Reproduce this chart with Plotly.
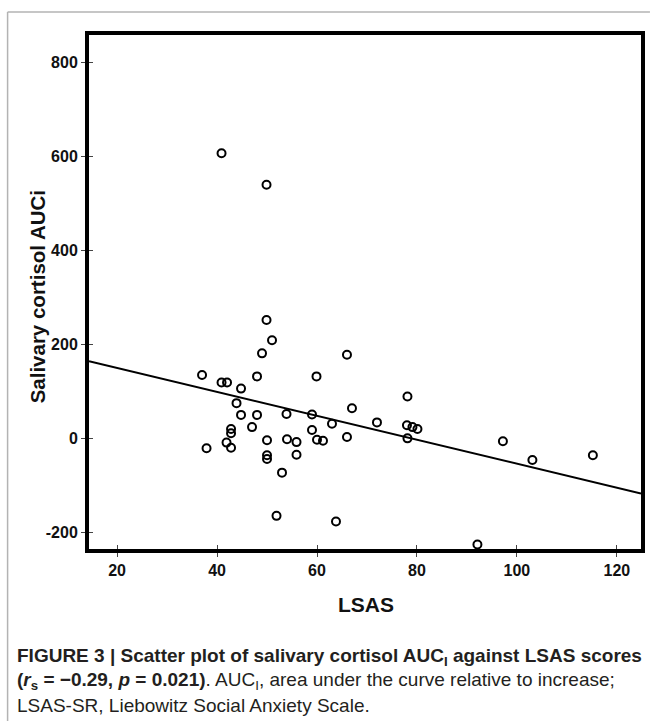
import plotly.graph_objects as go

# ---- data ----
lsas = [37.0, 40.9, 42.0, 44.8, 43.9, 44.8, 48.0, 48.0, 49.0, 51.0,
        47.0, 42.8, 42.8, 41.9, 42.8, 37.9, 50.0, 50.0, 50.0, 53.0,
        51.9, 53.9, 54.0, 55.9, 55.9, 59.9, 59.0, 59.0, 60.0, 61.2,
        63.0, 63.8, 66.0, 67.0, 66.0, 72.0, 78.1, 78.0, 79.1, 80.1,
        78.1, 92.1, 97.2, 103.1, 115.2, 40.9, 49.9, 49.9]
auci = [135, 119, 119, 106, 75, 50, 50, 132, 181, 209,
        24, 20, 11, -9, -20, -21, -4, -36, -44, -73,
        -165, 52, -2, -8, -35, 132, 51, 18, -3, -5,
        31, -177, 178, 64, 3, 34, 89, 28, 24, 20,
        0, -226, -6, -46, -36, 607, 540, 252]

x_ticks = [20, 40, 60, 80, 100, 120]
y_ticks = [-200, 0, 200, 400, 600, 800]
y_tick_labels = ["-200", "0", "200", "400", "600", "800"]
x_range = [14.38, 124.83]
y_range = [-235.6, 859.0]
fit_intercept = 201.1
fit_slope = -2.55

x_title = "LSAS"
y_title = "Salivary cortisol AUCi"
caption_lines = [
    "<b>FIGURE 3 | Scatter plot of salivary cortisol AUC<sub>I</sub> against LSAS scores</b>",
    "<b>(<i>r</i><sub>s</sub> = \u22120.29, <i>p</i> = 0.021)</b>. AUC<sub>I</sub>, area under the curve relative to increase;",
    "LSAS-SR, Liebowitz Social Anxiety Scale.",
]

# ---- layout geometry (pixels) ----
W, H = 654, 721
L, R, T, B = 89, 9, 35, 172
PW, PH = W - L - R, H - T - B


def px_x(p):
    return (p - L) / PW


def px_y(p):
    return (H - B - p) / PH


FONT = "Liberation Sans, Arial, Helvetica, sans-serif"

fig = go.Figure()
fig.add_trace(go.Scatter(
    x=x_range, y=[fit_intercept + fit_slope * v for v in x_range],
    mode="lines", line=dict(color="black", width=2), hoverinfo="skip",
    showlegend=False))
fig.add_trace(go.Scatter(
    x=lsas, y=auci, mode="markers",
    marker=dict(symbol="circle-open", size=8, color="black",
                line=dict(width=2, color="black")),
    showlegend=False))
fig.add_trace(go.Scatter(x=[], y=[], xaxis="x2", yaxis="y2", showlegend=False))

axis_common = dict(showgrid=False, zeroline=False)
fig.update_layout(
    width=W, height=H,
    margin=dict(l=L, r=R, t=T, b=B, pad=0),
    paper_bgcolor="white", plot_bgcolor="white",
    showlegend=False,
    xaxis=dict(range=x_range, tickvals=x_ticks, ticks="outside", ticklen=4,
               tickwidth=1, tickcolor="#444", showline=True, linewidth=4,
               linecolor="black", mirror=True,
               tickfont=dict(family=FONT, size=16, color="#111", weight="bold"),
               **axis_common),
    yaxis=dict(range=y_range, tickvals=y_ticks, ticktext=y_tick_labels,
               ticks="outside", ticklen=4,
               tickwidth=1, tickcolor="#444", showline=True, linewidth=4,
               linecolor="black", mirror=True,
               tickfont=dict(family=FONT, size=16, color="#111", weight="bold"),
               **axis_common),
    xaxis2=dict(range=x_range, tickvals=x_ticks, ticks="inside", ticklen=4,
                tickwidth=1, tickcolor="#444", showticklabels=False,
                overlaying="x", side="bottom", showline=False, **axis_common),
    yaxis2=dict(range=y_range, tickvals=y_ticks, ticks="inside", ticklen=4,
                tickwidth=1, tickcolor="#444", showticklabels=False,
                overlaying="y", side="left", showline=False, **axis_common),
)

annotations = [
    dict(text="<b>" + x_title + "</b>", x=px_x(368), y=px_y(604),
         xref="paper", yref="paper", xanchor="center", yanchor="middle",
         showarrow=False, font=dict(family=FONT, size=21, color="#111")),
    dict(text="<b>" + y_title + "</b>", x=px_x(37), y=px_y(297),
         xref="paper", yref="paper", xanchor="center", yanchor="middle",
         textangle=-90, showarrow=False,
         font=dict(family=FONT, size=20.5, color="#111")),
]
for line, ypx in zip(caption_lines, [657, 681, 705]):
    annotations.append(dict(
        text=line, x=px_x(14), y=px_y(ypx), xref="paper", yref="paper",
        xanchor="left", yanchor="middle", align="left", showarrow=False,
        font=dict(family=FONT, size=19, color="#231f20")))
fig.update_layout(annotations=annotations)

border = dict(color="#b3b3b3", width=1.5)
fig.update_layout(shapes=[
    dict(type="line", xref="paper", yref="paper", x0=px_x(7), x1=px_x(W),
         y0=px_y(12), y1=px_y(12), line=border),
    dict(type="line", xref="paper", yref="paper", x0=px_x(7), x1=px_x(7),
         y0=px_y(12), y1=px_y(H), line=border),
])

fig.write_html(
    "out.html",
    config={"displayModeBar": False},
    post_script="document.body.style.margin='0';document.body.style.overflow='hidden';",
)
